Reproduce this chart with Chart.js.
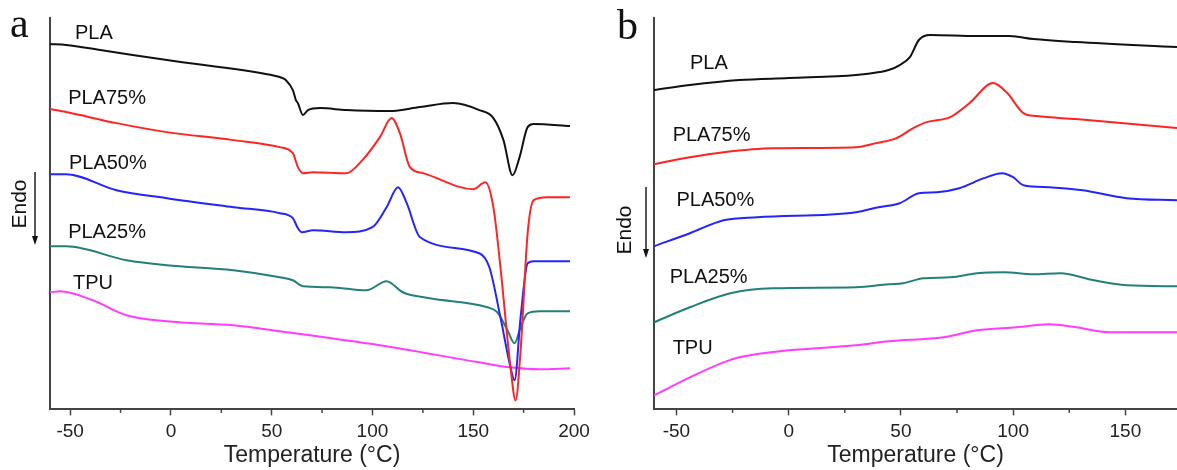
<!DOCTYPE html>
<html>
<head>
<meta charset="utf-8">
<script src="https://cdn.jsdelivr.net/npm/chart.js@4.4.1/dist/chart.umd.min.js"></script>
<style>
  body { margin: 0; background: #fff; }
  #wrap { position: relative; width: 1177px; height: 470px; overflow: hidden; }
  canvas { position: absolute; top: 0; }
  #chartA { left: 0; }
  #chartB { left: 600px; }
</style>
</head>
<body>
<div id="wrap">
  <canvas id="chartA" width="600" height="470"></canvas>
  <canvas id="chartB" width="577" height="470"></canvas>
</div>
<script>
// Panel a: heating scan (temperature in degC, heat flow in arbitrary units, exo up)
const aPlaT = [-60, -52, -35, -2, 50, 54, 57, 60.5, 62, 63, 65.5, 68, 74, 87, 108.7, 123.6, 140, 153, 160, 165, 169.5, 173, 177, 180, 198];
const aPlaH = [365, 364, 359, 349, 334, 332, 329, 319, 309, 306, 294, 299, 301, 299, 298, 302, 306, 299, 291, 269, 234, 252, 282, 285, 283];

const aPla75T = [-60, -52, -27, -2, 31, 54, 60.5, 63, 65.5, 70.5, 87, 95, 103.7, 109.5, 113.6, 118.6, 125, 150, 156, 160, 163.5, 168.5, 171, 173.5, 177, 180, 187, 198];
const aPla75H = [300, 297, 286, 277, 269, 262, 256, 242, 236, 237, 236, 249, 272, 291, 276, 242, 236, 220, 227, 202, 142, 42, 9, 59, 176, 209, 212, 212];

const aPla50T = [-60, -52, -27, -2, 31, 54, 60.5, 63, 65, 70.5, 87, 100, 107, 112.7, 117, 123.6, 153, 158, 163.5, 168.5, 170.5, 173.5, 177, 180, 198];
const aPla50H = [235, 235, 219, 211, 202, 196, 191, 181, 177, 179, 177, 182, 202, 222, 206, 172, 156, 142, 92, 42, 29, 92, 146, 148, 148];

const aPla25T = [-60, -52, -22, -2, 31, 54, 60.5, 65.5, 79, 97, 107, 115, 128.5, 157, 162, 167, 170.5, 173.5, 177, 183, 198];
const aPla25H = [163, 163, 149, 144, 139, 132, 129, 123, 122, 119, 128, 117, 111, 102, 97, 79, 66, 82, 96, 98, 98];

const aTpuT = [-60, -55, -38.7, -22, -2, 31, 54, 103.7, 153, 168.5, 183, 198];
const aTpuH = [117, 118, 109, 94, 88, 84, 78, 64, 47, 42, 40, 41];

// Panel b: cooling scan
const bPlaT = [-60, -44, -22, 0, 30, 40.5, 44.5, 49.5, 54, 58, 63, 84, 98.5, 109, 128, 173];
const bPlaH = [319, 324, 329, 331, 334, 337, 339, 344, 352, 369, 374, 373, 373, 370, 367, 362];

const bPla75T = [-60, -44, -29, -7, 30, 39, 48, 55.5, 61.5, 72, 80.6, 91, 97, 104.6, 110.5, 128, 173];
const bPla75H = [245, 252, 257, 261, 262, 266, 271, 281, 287, 292, 306, 326, 317, 296, 293, 290, 281];

const bPla50T = [-60, -44, -29, -14, 30, 40, 49.5, 58, 66, 76, 87, 95, 100, 104.6, 116, 131, 150.5, 173];
const bPla50H = [163, 176, 189, 192, 197, 202, 206, 216, 217, 221, 231, 236, 232, 224, 222, 219, 211, 209];

const bPla25T = [-60, -44, -26, -7, 30, 44.5, 51, 60, 72, 84, 96, 109, 121, 136, 150.5, 173];
const bPla25H = [87, 102, 116, 121, 122, 125, 126, 131, 132, 136, 137, 135, 136, 129, 124, 123];

const bTpuT = [-60, -44, -29, -22, 0, 30, 44.5, 69, 84, 101.5, 116, 128, 143, 173];
const bTpuH = [14, 32, 47, 52, 59, 64, 68, 72, 79, 82, 85, 82, 77, 77];

// Series names and colours
const seriesNames = ['PLA', 'PLA75%', 'PLA50%', 'PLA25%', 'TPU'];
const seriesColors = ['#111111', '#ff2424', '#2424ff', '#237f7a', '#ff3cff'];

// Curve labels (position in data units)
const aLabelT = [-47.6, -51, -50.6, -51, -48.6];
const aLabelH = [376, 311, 246, 177, 126];
const bLabelT = [-44, -51.7, -50, -53, -51.7];
const bLabelH = [346, 274, 209, 132, 61];

// Tick values on the temperature axis (labelled every 50, minor every 25)
const aTicks = [-50, -25, 0, 25, 50, 75, 100, 125, 150, 175, 200];
const bTicks = [-50, -25, 0, 25, 50, 75, 100, 125, 150];

const FONT = '"Liberation Sans", Arial, Helvetica, sans-serif';
const AXIS = '#444';

function makeSets(pairs) {
  return pairs.map((p, i) => ({
    label: seriesNames[i],
    data: p[0].map((t, j) => ({ x: t, y: p[1][j] })),
    borderColor: seriesColors[i],
    borderWidth: 2,
    pointRadius: 0,
    cubicInterpolationMode: 'monotone',
    fill: false
  }));
}

// Draws curve names, panel letter, the "Endo" arrow and short minor ticks
const notesPlugin = {
  id: 'notes',
  afterDraw(chart, args, opts) {
    const { ctx, chartArea } = chart;
    const xs = chart.scales.x, ys = chart.scales.y;
    ctx.save();

    // minor ticks (shorter than the major ones)
    ctx.strokeStyle = AXIS;
    ctx.lineWidth = 1.5;
    xs.ticks.forEach(t => {
      if (t.value % 50 !== 0) {
        const px = xs.getPixelForValue(t.value);
        ctx.beginPath();
        ctx.moveTo(px, chartArea.bottom);
        ctx.lineTo(px, chartArea.bottom + 3.5);
        ctx.stroke();
      }
    });

    ctx.fillStyle = '#111';
    ctx.font = '20px ' + FONT;
    ctx.textBaseline = 'middle';
    ctx.textAlign = 'left';
    seriesNames.forEach((name, i) => {
      ctx.fillText(name, xs.getPixelForValue(opts.labelT[i]), ys.getPixelForValue(opts.labelH[i]));
    });

    // panel letter
    ctx.font = '42px "Liberation Serif", "Times New Roman", serif';
    ctx.textBaseline = 'alphabetic';
    ctx.fillText(opts.letter, chartArea.left + opts.letterDx, opts.letterY);

    // Endo text, rotated
    ctx.save();
    ctx.translate(chartArea.left + opts.endoDx, opts.endoY);
    ctx.rotate(-Math.PI / 2);
    ctx.font = '21px ' + FONT;
    ctx.textAlign = 'center';
    ctx.textBaseline = 'middle';
    ctx.fillText('Endo', 0, 0);
    ctx.restore();

    // arrow pointing down
    const ax = chartArea.left + opts.arrowDx;
    ctx.strokeStyle = '#111';
    ctx.lineWidth = 1.4;
    ctx.beginPath();
    ctx.moveTo(ax, opts.arrowTop);
    ctx.lineTo(ax, opts.arrowBottom - 6);
    ctx.stroke();
    ctx.beginPath();
    ctx.moveTo(ax - 3, opts.arrowBottom - 9);
    ctx.lineTo(ax + 3, opts.arrowBottom - 9);
    ctx.lineTo(ax, opts.arrowBottom);
    ctx.closePath();
    ctx.fill();
    ctx.restore();
  }
};

function makeChart(id, sets, xMax, ticks, pad, notes) {
  return new Chart(document.getElementById(id), {
    type: 'line',
    data: { datasets: sets },
    plugins: [notesPlugin],
    options: {
      responsive: false,
      animation: false,
      layout: { padding: pad },
      plugins: {
        legend: { display: false },
        tooltip: { enabled: false },
        notes: notes
      },
      scales: {
        x: {
          type: 'linear',
          min: -60,
          max: xMax,
          afterBuildTicks: s => { s.ticks = ticks.map(v => ({ value: v })); },
          ticks: {
            autoSkip: false,
            maxRotation: 0,
            padding: 7,
            color: '#222',
            font: { family: FONT, size: 19, lineHeight: 1 },
            callback: v => (v % 50 === 0 ? String(v) : '')
          },
          grid: {
            drawOnChartArea: false,
            drawTicks: true,
            tickLength: 6,
            tickWidth: 1.5,
            tickColor: c => (c.tick && c.tick.value % 50 === 0 ? AXIS : 'rgba(0,0,0,0)')
          },
          border: { display: true, color: AXIS, width: 2 },
          title: {
            display: true,
            text: 'Temperature (°C)',
            color: '#222',
            font: { family: FONT, size: 23 },
            padding: { top: -7, bottom: 0 }
          }
        },
        y: {
          min: 0,
          max: 391,
          ticks: { display: false },
          grid: { drawOnChartArea: false, drawTicks: false },
          border: { display: true, color: AXIS, width: 2 }
        }
      }
    }
  });
}

makeChart('chartA',
  makeSets([[aPlaT, aPlaH], [aPla75T, aPla75H], [aPla50T, aPla50H], [aPla25T, aPla25H], [aTpuT, aTpuH]]),
  200, aTicks,
  { left: 50, right: 26, top: 18, bottom: 1 },
  { labelT: aLabelT, labelH: aLabelH, letter: 'a', letterDx: -40, letterY: 37,
    endoDx: -30, endoY: 204, arrowDx: -15, arrowTop: 172, arrowBottom: 245 });

makeChart('chartB',
  makeSets([[bPlaT, bPlaH], [bPla75T, bPla75H], [bPla50T, bPla50H], [bPla25T, bPla25H], [bTpuT, bTpuH]]),
  173, bTicks,
  { left: 54, right: 0, top: 18, bottom: 1 },
  { labelT: bLabelT, labelH: bLabelH, letter: 'b', letterDx: -37, letterY: 39,
    endoDx: -29, endoY: 230, arrowDx: -8, arrowTop: 187, arrowBottom: 258 });
</script>
</body>
</html>
